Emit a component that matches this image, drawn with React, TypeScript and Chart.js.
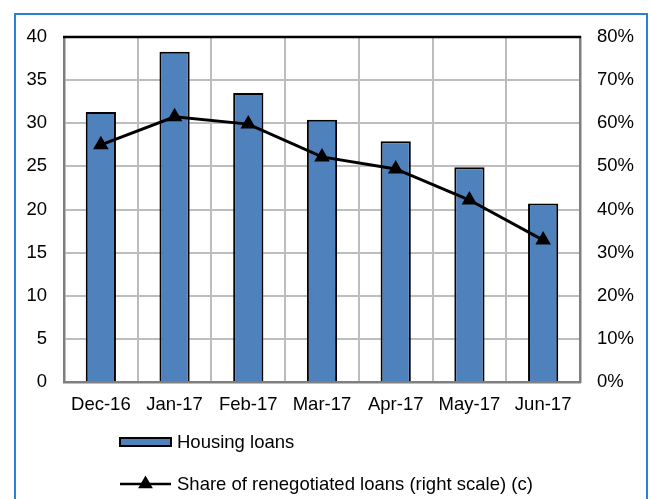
import React, { useEffect, useRef } from "react";
import { Chart, registerables } from "chart.js";

Chart.register(...registerables);

const categories = ["Dec-16", "Jan-17", "Feb-17", "Mar-17", "Apr-17", "May-17", "Jun-17"];
const housingLoans = [31.3, 38.3, 33.5, 30.4, 27.9, 24.9, 20.7];
const renegotiatedShare = [55.0, 61.5, 59.8, 52.2, 49.4, 42.2, 32.9];
const leftTicks = [0, 5, 10, 15, 20, 25, 30, 35, 40];
const rightTicks = [0, 10, 20, 30, 40, 50, 60, 70, 80];
const barLabel = "Housing loans";
const lineLabel = "Share of renegotiated loans (right scale) (c)";

const FONT = "'Liberation Sans', Arial, sans-serif";
const FONT_SIZE = 18.5;
const BAR_COLOR = "#4f81bd";

const framePlugin = {
  id: "frameAndLegend",
  beforeDraw(chart: any) {
    const ctx = chart.ctx;
    ctx.save();
    ctx.fillStyle = "#ffffff";
    ctx.fillRect(0, 0, chart.width, chart.height);
    ctx.strokeStyle = "#2a80d4";
    ctx.lineWidth = 2;
    ctx.strokeRect(15, 14, 632, 520);
    ctx.restore();
  },
  afterDraw(chart: any) {
    const ctx = chart.ctx;
    const a = chart.chartArea;
    ctx.save();
    ctx.strokeStyle = "#000000";
    ctx.lineWidth = 2.5;
    ctx.beginPath();
    ctx.moveTo(a.left - 1, a.top);
    ctx.lineTo(a.right + 1, a.top);
    ctx.stroke();

    const lx = 120;
    const boxW = 51;
    ctx.font = `${FONT_SIZE}px ${FONT}`;
    ctx.textBaseline = "middle";
    const y1 = 442;
    ctx.fillStyle = BAR_COLOR;
    ctx.fillRect(lx, y1 - 4, boxW, 8);
    ctx.strokeStyle = "#000";
    ctx.lineWidth = 2;
    ctx.strokeRect(lx, y1 - 4, boxW, 8);
    ctx.fillStyle = "#000";
    ctx.fillText(chart.data.datasets[1].label, lx + boxW + 6, y1 + 1);
    const y2 = 484;
    ctx.lineWidth = 2.5;
    ctx.beginPath();
    ctx.moveTo(lx, y2);
    ctx.lineTo(lx + boxW, y2);
    ctx.stroke();
    const cx = lx + boxW / 2;
    const r = 8.5;
    ctx.beginPath();
    ctx.moveTo(cx, y2 - r);
    ctx.lineTo(cx + r * 0.866, y2 + r / 2);
    ctx.lineTo(cx - r * 0.866, y2 + r / 2);
    ctx.closePath();
    ctx.fill();
    ctx.fillText(chart.data.datasets[0].label, lx + boxW + 6, y2 + 1);
    ctx.restore();
  },
};

export default function App() {
  const ref = useRef<HTMLCanvasElement | null>(null);
  useEffect(() => {
    if (!ref.current) return;
    const chart = new Chart(ref.current, {
      type: "bar",
      data: {
        labels: categories,
        datasets: [
          {
            type: "line",
            label: lineLabel,
            data: renegotiatedShare,
            yAxisID: "y2",
            borderColor: "#000",
            backgroundColor: "#000",
            borderWidth: 3,
            pointStyle: "triangle",
            pointRadius: 9,
            pointBackgroundColor: "#000",
            pointBorderColor: "#000",
            pointBorderWidth: 0,
            tension: 0,
            order: 0,
          } as any,
          {
            type: "bar",
            label: barLabel,
            data: housingLoans,
            yAxisID: "y",
            backgroundColor: BAR_COLOR,
            borderColor: "#000",
            borderWidth: 2,
            categoryPercentage: 1,
            barPercentage: 0.41,
            order: 1,
          } as any,
        ],
      },
      options: {
        responsive: false,
        animation: false,
        layout: { padding: { top: 37, left: 0, right: 0, bottom: 0 } },
        plugins: {
          legend: { display: false },
          tooltip: { enabled: false },
        },
        scales: {
          x: {
            offset: true,
            grid: { offset: true, color: "#bdbdbd", lineWidth: 2, drawTicks: false },
            border: { color: "#7f7f7f", width: 2.5 },
            ticks: { color: "#000", font: { family: FONT, size: FONT_SIZE }, padding: 12, maxRotation: 0 },
            afterFit: (s: any) => {
              s.height = 117;
            },
          },
          y: {
            position: "left",
            min: 0,
            max: 40,
            afterBuildTicks: (s: any) => {
              s.ticks = leftTicks.map((v) => ({ value: v }));
            },
            grid: { color: "#bdbdbd", lineWidth: 2, drawTicks: false },
            border: { color: "#7f7f7f", width: 2.5 },
            ticks: { color: "#000", font: { family: FONT, size: FONT_SIZE }, padding: 17 },
            afterFit: (s: any) => {
              s.width = 64;
            },
          },
          y2: {
            position: "right",
            min: 0,
            max: 80,
            afterBuildTicks: (s: any) => {
              s.ticks = rightTicks.map((v) => ({ value: v }));
            },
            grid: { display: false, drawTicks: false },
            border: { color: "#7f7f7f", width: 2.5 },
            ticks: {
              color: "#000",
              font: { family: FONT, size: FONT_SIZE },
              padding: 17,
              callback: (v: any) => `${v}%`,
            },
            afterFit: (s: any) => {
              s.width = 71;
            },
          },
        },
      },
      plugins: [framePlugin],
    });
    return () => chart.destroy();
  }, []);
  return (
    <div style={{ position: "fixed", left: 0, top: 0, width: 651, height: 499, overflow: "hidden", background: "#fff" }}>
      <canvas ref={ref} width={651} height={499} style={{ display: "block", width: 651, height: 499 }} />
    </div>
  );
}
